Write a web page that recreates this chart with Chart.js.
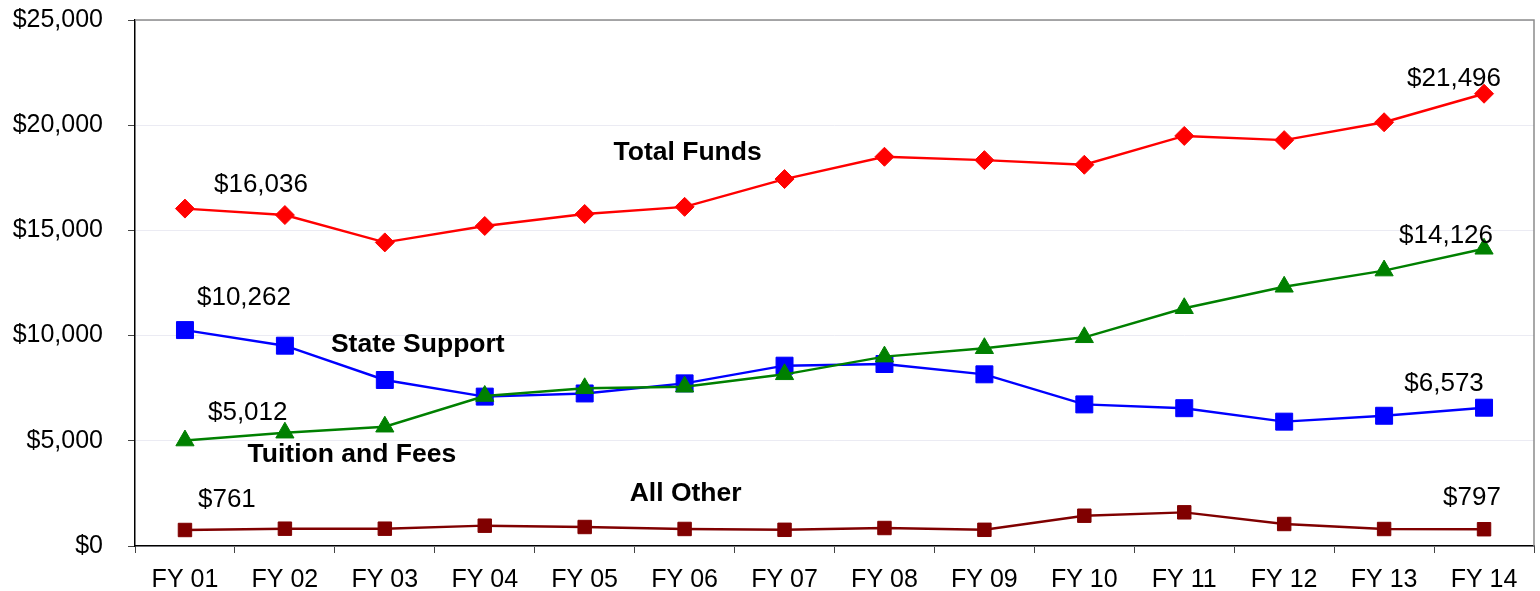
<!DOCTYPE html>
<html>
<head>
<meta charset="utf-8">
<script src="https://cdn.jsdelivr.net/npm/chart.js@4/dist/chart.umd.min.js"></script>
<style>
  html, body { margin: 0; padding: 0; background: #fff; overflow: hidden; }
  #wrap { width: 1540px; height: 591px; overflow: hidden; }
</style>
</head>
<body>
<div id="wrap"><canvas id="fundsChart" width="1547" height="591"></canvas></div>
<script>
// data
const years = ['FY 01', 'FY 02', 'FY 03', 'FY 04', 'FY 05', 'FY 06', 'FY 07',
  'FY 08', 'FY 09', 'FY 10', 'FY 11', 'FY 12', 'FY 13', 'FY 14'];
const totalFunds = [16036, 15730, 14430, 15210, 15780, 16120, 17440, 18500, 18340, 18120, 19490, 19290, 20140, 21496];
const stateSupport = [10262, 9520, 7890, 7100, 7250, 7730, 8570, 8650, 8160, 6730, 6550, 5910, 6190, 6573];
const tuitionFees = [5012, 5385, 5670, 7130, 7495, 7570, 8160, 9000, 9400, 9920, 11300, 12320, 13090, 14126];
const allOther = [761, 823, 823, 966, 903, 810, 770, 855, 770, 1440, 1600, 1046, 808, 797];
const yTicks = [0, 5000, 10000, 15000, 20000, 25000];

const money = v => '$' + v.toLocaleString('en-US');

// value labels next to first / last points: [dataset index, point index, dx, dy, align]
const valueNotes = [
  [0, 0, 29, -24, 'left'], [0, 13, -30, -15, 'center'],
  [2, 0, 12, -32, 'left'], [2, 13, -40, -24, 'center'],
  [1, 0, 23, -28, 'left'], [1, 13, -38, -13, 'center'],
  [3, 0, 13, -30, 'left'], [3, 13, -12, -31, 'center']
];
// series names, placed in data space (category index, value)
const nameNotes = [
  ['Total Funds', 5.03, 18680],
  ['State Support', 2.33, 9550],
  ['Tuition and Fees', 1.67, 4330],
  ['All Other', 5.01, 2470]
];

const notesPlugin = {
  id: 'notes',
  beforeDatasetsDraw(chart) {
    const { ctx, chartArea: a } = chart;
    ctx.save();
    ctx.strokeStyle = '#8c8c8c';
    ctx.lineWidth = 1.5;
    ctx.beginPath();
    ctx.moveTo(a.left, a.top);
    ctx.lineTo(a.right, a.top);
    ctx.lineTo(a.right, a.bottom);
    ctx.stroke();
    ctx.restore();
  },
  afterDatasetsDraw(chart) {
    const { ctx } = chart;
    const xs = chart.scales.x, ys = chart.scales.y;
    ctx.save();
    ctx.fillStyle = '#000';
    ctx.textBaseline = 'middle';
    ctx.font = '26px "Liberation Sans", Arial, sans-serif';
    valueNotes.forEach(([d, i, dx, dy, align]) => {
      const pt = chart.getDatasetMeta(d).data[i];
      ctx.textAlign = align;
      ctx.fillText(money(chart.data.datasets[d].data[i]), pt.x + dx, pt.y + dy);
    });
    ctx.font = 'bold 26.5px "Liberation Sans", Arial, sans-serif';
    ctx.textAlign = 'center';
    nameNotes.forEach(([txt, xi, yv]) => {
      ctx.fillText(txt, xs.getPixelForValue(xi), ys.getPixelForValue(yv));
    });
    ctx.restore();
  }
};

const tickFont = { family: '"Liberation Sans", Arial, sans-serif', size: 25 };

new Chart(document.getElementById('fundsChart'), {
  type: 'line',
  data: {
    labels: years,
    datasets: [
      {
        label: 'Total Funds', data: totalFunds,
        borderColor: '#ff0000', backgroundColor: '#ff0000', borderWidth: 2.4,
        pointStyle: 'rectRot', pointRadius: 9.5, pointBorderWidth: 1
      },
      {
        label: 'Tuition and Fees', data: tuitionFees,
        borderColor: '#008000', backgroundColor: '#008000', borderWidth: 2.4,
        pointStyle: 'triangle', pointRadius: 10.5, pointBorderWidth: 1
      },
      {
        label: 'State Support', data: stateSupport,
        borderColor: '#0000ff', backgroundColor: '#0000ff', borderWidth: 2.4,
        pointStyle: 'rect', pointRadius: 12, pointBorderWidth: 1
      },
      {
        label: 'All Other', data: allOther,
        borderColor: '#800000', backgroundColor: '#800000', borderWidth: 2.4,
        pointStyle: 'rect', pointRadius: 9.5, pointBorderWidth: 1
      }
    ]
  },
  options: {
    responsive: false,
    animation: false,
    layout: { padding: { top: 20, right: 6, left: 0, bottom: 0 } },
    plugins: { legend: { display: false }, tooltip: { enabled: false } },
    scales: {
      x: {
        offset: true,
        grid: { offset: true, drawOnChartArea: false, tickLength: 7, tickColor: '#444', lineWidth: 1 },
        border: { color: '#000', width: 1.5 },
        ticks: { font: tickFont, color: '#000', padding: 12, maxRotation: 0, autoSkip: false },
        afterFit(axis) {
          axis.height = 45;
          axis.paddingLeft = 0;
          axis.paddingRight = 0;
        }
      },
      y: {
        min: 0, max: 25000,
        afterBuildTicks(axis) { axis.ticks = yTicks.map(v => ({ value: v })); },
        grid: { color: '#ebebf3', tickLength: 7, tickColor: '#444', lineWidth: 1 },
        border: { color: '#000', width: 1.5 },
        ticks: { font: tickFont, color: '#000', padding: 25, callback: v => money(v) },
        afterFit(axis) {
          axis.width = 135;
          axis.paddingTop = 0;
          axis.paddingBottom = 0;
        }
      }
    }
  },
  plugins: [notesPlugin]
});
</script>
</body>
</html>
